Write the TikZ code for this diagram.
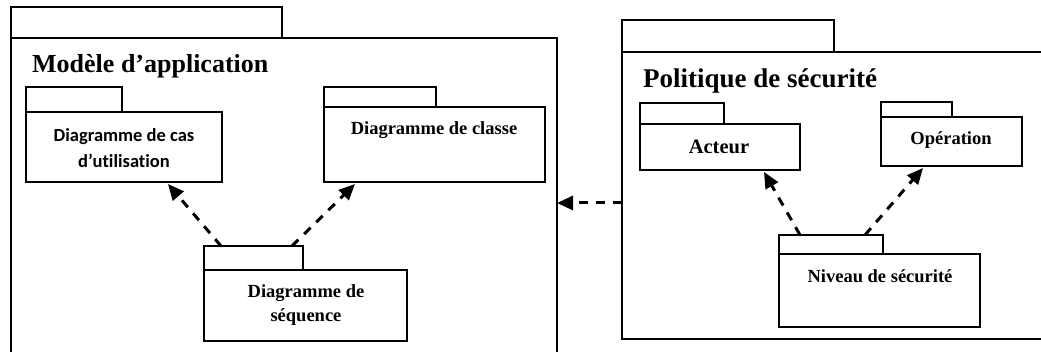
\documentclass[tikz,border=0pt]{standalone}
\usepackage{fontspec}
\setmainfont{Liberation Serif}
\newfontfamily\carlito[Ligatures=NoCommon]{Carlito}
\usetikzlibrary{arrows.meta}
\begin{document}
\begin{tikzpicture}[x=1pt,y=-1pt,
  box/.style={draw=black,line width=1.8pt,anchor=north west,inner sep=0pt,outer sep=0pt},
  title/.style={font=\fontsize{26}{30}\selectfont\bfseries,inner sep=0pt,anchor=base west},
  lbl/.style={font=\fontsize{18.5}{24}\selectfont\bfseries,inner sep=0pt,align=center},
  dep/.style={line width=3pt,dash pattern=on 9pt off 8pt,
    -{Triangle[length=16pt,width=14pt]}}]
\useasboundingbox (0,0) rectangle (1041,352);
\clip (0,0) rectangle (1041,352);

% outer package: application model
\node[box,minimum width=271pt,minimum height=31pt] (modtab) at (11,7) {};
\node[box,minimum width=546pt,minimum height=330pt] (modbody) at (11,38) {};
\node[title] (modtitle) at (32,73) {Modèle d’application};

% outer package: security policy
\node[box,minimum width=212pt,minimum height=32pt] (poltab) at (622,20) {};
\node[box,minimum width=450pt,minimum height=287pt] (polbody) at (622,52) {};
\node[title,font=\fontsize{27}{30}\selectfont\bfseries] (poltitle) at (643,88) {Politique de sécurité};

% inner packages of the model
\node[box,minimum width=96pt,minimum height=25pt] (castab) at (26,87) {};
\node[box,minimum width=196pt,minimum height=70pt] (casbody) at (26,112) {};
\node[lbl,font=\carlito\fontsize{18.5}{26}\selectfont\bfseries] (caslbl) at (124,148) {Diagramme de cas\\d’utilisation};

\node[box,minimum width=112pt,minimum height=20pt] (clstab) at (324,87) {};
\node[box,minimum width=221pt,minimum height=75pt] (clsbody) at (324,107) {};
\node[lbl,anchor=base] (clslbl) at (434,135) {Diagramme de classe};

\node[box,minimum width=99pt,minimum height=24pt] (seqtab) at (204,246) {};
\node[box,minimum width=203pt,minimum height=71pt] (seqbody) at (204,270) {};
\node[lbl] (seqlbl) at (306,305) {Diagramme de\\séquence};

% inner packages of the policy
\node[box,minimum width=84pt,minimum height=21pt] (acttab) at (640,103) {};
\node[box,minimum width=160pt,minimum height=46pt] (actbody) at (640,124) {};
\node[lbl,anchor=base,font=\fontsize{20.5}{24}\selectfont\bfseries] (actlbl) at (719,154) {Acteur};

\node[box,minimum width=71pt,minimum height=15pt] (optab) at (881,102) {};
\node[box,minimum width=141pt,minimum height=49pt] (opbody) at (881,117) {};
\node[lbl,anchor=base] (oplbl) at (951,145) {Opération};

\node[box,minimum width=104pt,minimum height=19pt] (nivtab) at (779,235) {};
\node[box,minimum width=201pt,minimum height=73pt] (nivbody) at (779,254) {};
\node[lbl,anchor=base] (nivlbl) at (880,283) {Niveau de sécurité};

% dependencies
\draw[dep] ([xshift=17pt]seqtab.north west) -- ([xshift=-54pt,yshift=-2pt]casbody.south east);
\draw[dep] ([xshift=-11pt]seqtab.north east) -- ([xshift=31pt,yshift=-2pt]clsbody.south west);
\draw[dep] ([xshift=21pt]nivtab.north west) -- ([xshift=-36pt,yshift=-2pt]actbody.south east);
\draw[dep] ([xshift=-18pt]nivtab.north east) -- ([xshift=42pt,yshift=-2pt]opbody.south west);
\draw[dep] (polbody.west |- modbody.east) -- (modbody.east);
\end{tikzpicture}
\end{document}
